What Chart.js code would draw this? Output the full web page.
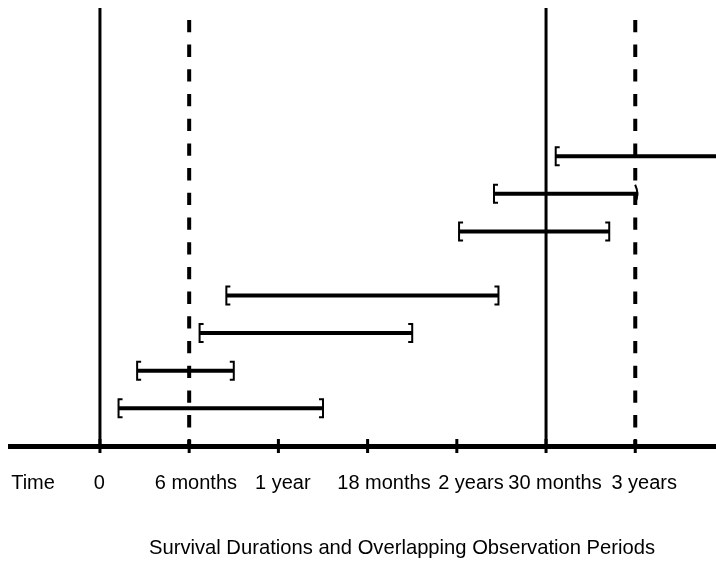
<!DOCTYPE html>
<html>
<head>
<meta charset="utf-8">
<script src="https://cdn.jsdelivr.net/npm/chart.js@4"></script>
<style>
  body { margin: 0; background: #fff; }
  #wrap { width: 716px; height: 562px; }
</style>
</head>
<body>
<div id="wrap"><canvas id="myChart" width="716" height="562"></canvas></div>
<script>
// data
var rows = [1, 2, 3, 4, 5.7, 6.7, 7.7];
var startMonths = [1.25, 2.5, 6.7, 8.5, 24.15, 26.5, 30.65];
var endMonths = [15, 9, 21, 26.8, 34.25, 36.2, 45];
var endMarks = [']', ']', ']', ']', ']', ')', ''];
var refMonths = [0, 6, 30, 36];
var refDashed = [false, true, false, true];
var tickMonths = [0, 6, 12, 18, 24, 30, 36];
var tickLabels = ['0', '6 months', '1 year', '18 months', '2 years', '30 months', '3 years'];
var axisName = 'Time';
var chartTitle = 'Survival Durations and Overlapping Observation Periods';

// label nudges (months) so the text sits like the original
var namePos = -4.5;
var labelShift = [-0.05, 0.45, 0.3, 1.1, 0.95, 0.6, 0.6];
var lineTop = 11.64;
var font = '"Liberation Sans", Arial, sans-serif';

var datasets = [];
refMonths.forEach(function (m, i) {
    datasets.push({
        data: [{ x: m, y: lineTop }, { x: m, y: 0 }],
        borderColor: '#000',
        borderWidth: refDashed[i] ? 4 : 3,
        borderDash: refDashed[i] ? [12.3, 12.4] : [],
        borderDashOffset: refDashed[i] ? 12.7 : 0,
        borderCapStyle: 'butt',
        showLine: true,
        pointRadius: 0
    });
});
rows.forEach(function (r, i) {
    datasets.push({
        data: [{ x: startMonths[i], y: r }, { x: endMonths[i], y: r }],
        borderColor: '#000',
        borderWidth: 4,
        borderCapStyle: 'butt',
        showLine: true,
        pointRadius: 0
    });
});

function drawMark(ctx, kind, px, py) {
    var h = 9, s = 4;
    ctx.lineWidth = 2;
    ctx.beginPath();
    if (kind === '[') {
        ctx.moveTo(px + s, py - h); ctx.lineTo(px, py - h);
        ctx.lineTo(px, py + h); ctx.lineTo(px + s, py + h);
    } else if (kind === ']') {
        ctx.moveTo(px - s, py - h); ctx.lineTo(px, py - h);
        ctx.lineTo(px, py + h); ctx.lineTo(px - s, py + h);
    } else if (kind === ')') {
        ctx.arc(px - 22, py, 21, -0.45, 0.45);
    }
    ctx.stroke();
}

var marks = {
    id: 'marks',
    afterDraw: function (chart) {
        var ctx = chart.ctx, x = chart.scales.x, y = chart.scales.y;
        ctx.save();
        ctx.strokeStyle = '#000';
        ctx.fillStyle = '#000';
        var y0 = y.getPixelForValue(0);
        tickMonths.forEach(function (m) {
            var px = x.getPixelForValue(m);
            ctx.fillRect(px - 1.5, y0 - 7, 3, 14);
        });
        rows.forEach(function (r, i) {
            var py = y.getPixelForValue(r);
            drawMark(ctx, '[', x.getPixelForValue(startMonths[i]), py);
            drawMark(ctx, endMarks[i], x.getPixelForValue(endMonths[i]), py);
        });
        // caption under the axis, centred where the original had it
        ctx.font = '20.2px ' + font;
        ctx.textAlign = 'center';
        ctx.textBaseline = 'middle';
        ctx.fillText(chartTitle, 402, 548);
        ctx.restore();
    }
};

var ctx = document.getElementById('myChart').getContext('2d');
var myChart = new Chart(ctx, {
    type: 'scatter',
    data: { datasets: datasets },
    options: {
        responsive: false,
        animation: false,
        devicePixelRatio: 1,
        layout: { padding: { left: 10, right: 0, top: 0, bottom: 42 } },
        plugins: {
            legend: { display: false },
            tooltip: { enabled: false }
        },
        scales: {
            x: {
                type: 'linear',
                min: -6.05,
                max: 41.43,
                grid: { display: false, drawTicks: false },
                border: { display: true, width: 5, color: '#000' },
                afterBuildTicks: function (scale) {
                    var t = [{ value: namePos }];
                    tickMonths.forEach(function (m, i) { t.push({ value: m + labelShift[i] }); });
                    scale.ticks = t;
                },
                afterFit: function (scale) {
                    scale.paddingLeft = 0;
                    scale.paddingRight = 0;
                },
                ticks: {
                    autoSkip: false,
                    maxRotation: 0,
                    padding: 25,
                    color: '#000',
                    font: { family: font, size: 20 },
                    callback: function (v, i) { return i === 0 ? axisName : tickLabels[i - 1]; }
                }
            },
            y: {
                display: false,
                min: 0,
                max: 11.85
            }
        }
    },
    plugins: [marks]
});
</script>
</body>
</html>
